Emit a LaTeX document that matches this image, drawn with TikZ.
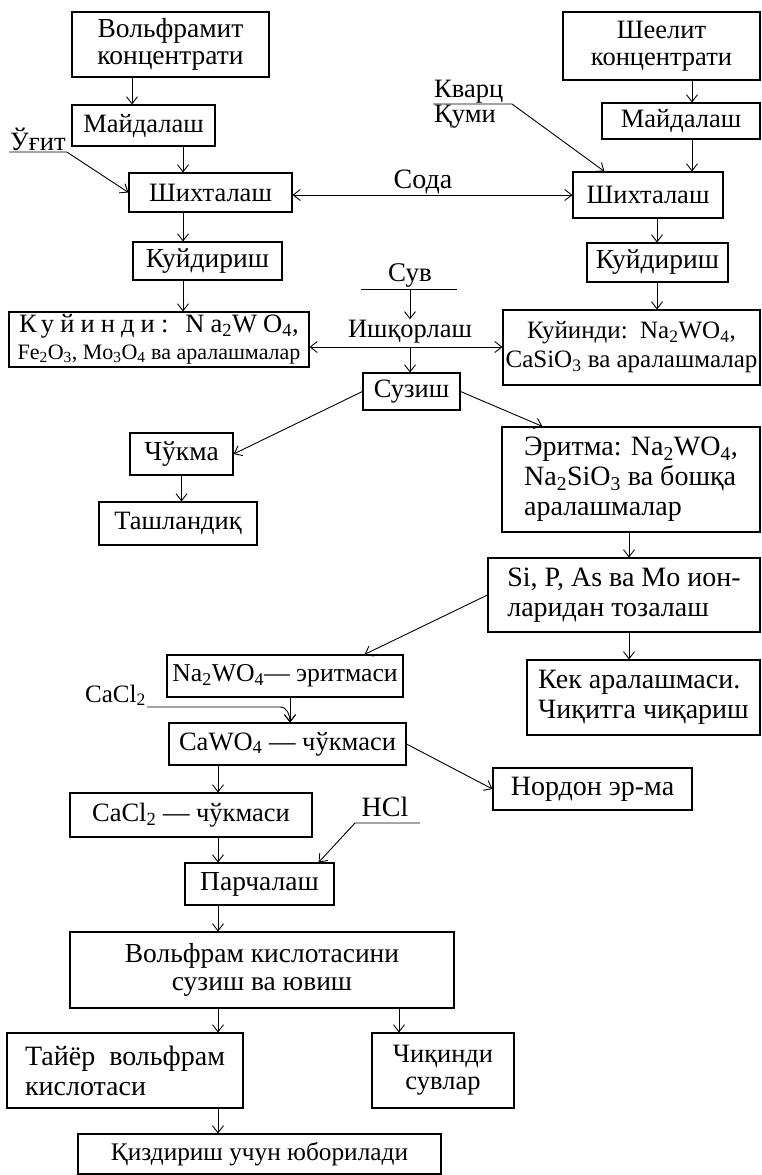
\documentclass[tikz,border=0pt]{standalone}
\usepackage{fontspec}
\setmainfont{Liberation Serif}
\usetikzlibrary{arrows.meta,calc}

\begin{document}
\begin{tikzpicture}[
  x=1pt,y=-1pt,
  box/.style={draw,line width=1.1pt,inner sep=2pt,align=center,font=\fontsize{26.5}{27}\selectfont},
  wide/.style={font=\fontsize{28}{30}\selectfont},
  lbl/.style={inner sep=1pt,font=\fontsize{26.5}{27}\selectfont},
  arr/.style={-{Straight Barb[length=7pt,width=11pt]},line width=0.9pt},
  dbl/.style={{Straight Barb[length=7pt,width=11pt]}-{Straight Barb[length=7pt,width=11pt]},line width=0.9pt},
  ln/.style={line width=0.9pt}
]
\useasboundingbox (0,0) rectangle (762,1175);
\node[box,font=\fontsize{27.5}{27}\selectfont,minimum width=197pt,minimum height=65pt] (wconc) at (170.5,44.5) {Вольфрамит\\концентрати};
\node[box,minimum width=143pt,minimum height=41pt] (wmill) at (143.5,125.5) {Майдалаш};
\node[box,minimum width=163pt,minimum height=39pt] (wmix) at (210.5,192.5) {Шихталаш};
\node[box,font=\fontsize{27.5}{27}\selectfont,minimum width=149pt,minimum height=38pt] (wroast) at (207.5,261) {Куйдириш};
\node[box,minimum width=300pt,minimum height=55pt] (wcalc) at (159,339.5) {{\addfontfeature{LetterSpace=23}Куйинди: Na\textsubscript{2}WO\textsubscript{4},}\\{\fontsize{22}{26}\selectfont Fe\textsubscript{2}O\textsubscript{3}, Mo\textsubscript{3}O\textsubscript{4} ва аралашмалар}};
\node[box,minimum width=197pt,minimum height=68pt] (sconc) at (661.5,46) {Шеелит\\концентрати};
\node[box,minimum width=158pt,minimum height=36pt] (smill) at (681,121) {Майдалаш};
\node[box,minimum width=150pt,minimum height=46pt] (smix) at (648,195) {Шихталаш};
\node[box,font=\fontsize{27.5}{27}\selectfont,minimum width=141pt,minimum height=39pt] (sroast) at (657.5,262.5) {Куйдириш};
\node[box,font=\fontsize{25}{29}\selectfont,minimum width=257pt,minimum height=75pt] (scalc) at (631.5,347.5) {Куйинди:\ \ Na\textsubscript{2}WO\textsubscript{4},\\CaSiO\textsubscript{3} ва аралашмалар};
\node[box,minimum width=97pt,minimum height=37pt] (filt) at (411.5,391.5) {Сузиш};
\node[box,font=\fontsize{27.5}{27}\selectfont,minimum width=103pt,minimum height=42pt] (sed) at (181.5,454) {Чўкма};
\node[box,minimum width=158pt,minimum height=43pt] (waste) at (178,523.5) {Ташландиқ};
\node[box,wide,align=left,minimum width=258pt,minimum height=105pt] (soln) at (631,479.5) {Эритма: Na\textsubscript{2}WO\textsubscript{4},\\Na\textsubscript{2}SiO\textsubscript{3} ва бошқа\\аралашмалар};
\node[box,wide,align=left,minimum width=272pt,minimum height=74pt] (clean) at (624,595) {Si, P, As ва Mo ион-\\ларидан тозалаш};
\node[box,wide,align=left,minimum width=233pt,minimum height=75pt] (cake) at (643.5,697.5) {Кек аралашмаси.\\Чиқитга чиқариш};
\node[box,font=\fontsize{25.7}{27}\selectfont,minimum width=236pt,minimum height=42pt] (nawo) at (285,676) {Na\textsubscript{2}WO\textsubscript{4}— эритмаси};
\node[box,minimum width=237pt,minimum height=42pt] (cawo) at (287.5,744) {CaWO\textsubscript{4} — чўкмаси};
\node[box,wide,minimum width=199pt,minimum height=42pt] (acid) at (592.5,789) {Нордон эр-ма};
\node[box,minimum width=242pt,minimum height=44pt] (cacls) at (191,815) {CaCl\textsubscript{2} — чўкмаси};
\node[box,font=\fontsize{27.5}{27}\selectfont,minimum width=149pt,minimum height=42pt] (parch) at (259.5,884) {Парчалаш};
\node[box,font=\fontsize{27.5}{28}\selectfont,minimum width=384pt,minimum height=76pt] (wacid) at (262,970) {Вольфрам кислотасини\\сузиш ва ювиш};
\node[box,wide,align=left,minimum width=236pt,minimum height=75pt] (pure) at (125,1070.5) {Тайёр\ \ вольфрам\\кислотаси};
\node[box,minimum width=142pt,minimum height=75pt] (wwater) at (443,1070.5) {Чиқинди\\сувлар};
\node[box,font=\fontsize{25.3}{27}\selectfont,minimum width=363pt,minimum height=40pt] (heat) at (259.5,1154) {Қиздириш учун юборилади};
\node[lbl,anchor=south west] (fert) at (9,152) {Ўғит};
\node[lbl,anchor=south west] (quartz) at (433,104) {Кварц};
\node[lbl,anchor=north west] (sand) at (433,104) {Қуми};
\node[lbl,font=\fontsize{28}{28}\selectfont] (soda) at (423,182) {Сода};
\node[lbl,font=\fontsize{27}{28}\selectfont] (water) at (410,275) {Сув};
\node[lbl] (leach) at (410,332) {Ишқорлаш};
\node[lbl,font=\fontsize{25}{27}\selectfont,anchor=south east] (cacl) at (147,707) {CaCl\textsubscript{2}};
\node[lbl,font=\fontsize{28}{28}\selectfont] (hcl) at (385,807) {HCl};
\coordinate (xa) at (132,0);
\coordinate (xb) at (183,0);
\coordinate (xc) at (692,0);
\coordinate (xd) at (657,0);
\coordinate (xf) at (629,0);
\coordinate (xg) at (290,0);
\coordinate (xh) at (218,0);
\coordinate (xj) at (399,0);
\coordinate (sodaline) at (423,195);
\coordinate (qk) at (512,104);
\coordinate (wl) at (361,289);
\coordinate (wr) at (457,289);
\coordinate (lc) at (410,347);
\coordinate (cj) at (280,707);
\coordinate (hl) at (355,823);
\coordinate (hr) at (420,823);
\draw[arr] (wconc.south -| xa) -- (wmill.north -| xa);
\draw[arr] (wmill.south -| xb) -- (wmix.north -| xb);
\draw[arr] (wmix.south -| xb) -- (wroast.north -| xb);
\draw[arr] (wroast.south -| xb) -- (wcalc.north -| xb);
\draw[arr] (sconc.south -| xc) -- (smill.north -| xc);
\draw[arr] (smill.south -| xc) -- (smix.north -| xc);
\draw[arr] (smix.south -| xd) -- (sroast.north -| xd);
\draw[arr] (sroast.south -| xd) -- (scalc.north -| xd);
\draw[arr] (fert.south west) -- (fert.south east) -- (wmix.west);
\draw[arr] (quartz.south west) -- (qk) -- ([xshift=32pt]smix.north west);
\draw[dbl] (wmix.east |- sodaline) -- (smix.west |- sodaline);
\draw[ln] (wl) -- (wr);
\draw[arr] (water.south |- wl) -- (leach.north);
\draw[arr] (lc) -- (wcalc.east |- lc);
\draw[arr] (lc) -- (scalc.west |- lc);
\draw[arr] (lc) -- (lc |- filt.north);
\draw[arr] (filt.west) -- (sed.east);
\draw[arr] (sed.south) -- (sed.south |- waste.north);
\draw[arr] (filt.east) -- ([xshift=41pt]soln.north west);
\draw[arr] (soln.south -| xf) -- (clean.north -| xf);
\draw[arr] (clean.south -| xf) -- (cake.north -| xf);
\draw[arr] (clean.west) -- ([xshift=198pt]nawo.north west);
\draw[arr] (nawo.south -| xg) -- (cawo.north -| xg);
\draw[arr] (cacl.south east) -- (cj) to[out=0,in=90] (cawo.north -| xg);
\draw[arr] (cawo.east) -- (acid.west);
\draw[arr] (cawo.south -| xh) -- (cacls.north -| xh);
\draw[arr] (cacls.south -| xh) -- (parch.north -| xh);
\draw[arr] (hr) -- (hl) -- ([xshift=-16pt]parch.north east);
\draw[arr] (parch.south -| xh) -- (wacid.north -| xh);
\draw[arr] (wacid.south -| xh) -- (pure.north -| xh);
\draw[arr] (wacid.south -| xj) -- (wwater.north -| xj);
\draw[arr] (pure.south -| xh) -- (heat.north -| xh);
\end{tikzpicture}
\end{document}
